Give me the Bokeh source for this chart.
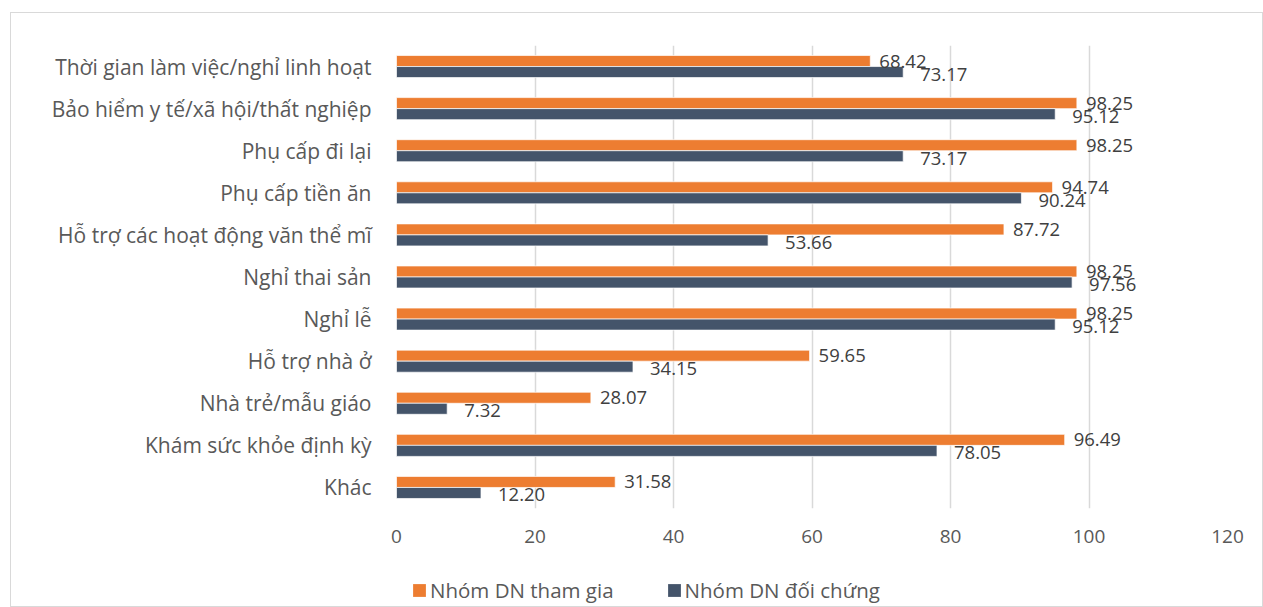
from bokeh.plotting import figure
from bokeh.layouts import column
from bokeh.models import ColumnDataSource, Range1d, FixedTicker, Legend, LegendItem
from bokeh.transform import dodge
from bokeh.core.properties import value
from bokeh.embed import file_html
from bokeh.resources import INLINE

# Benefit categories (top to bottom) and share of firms offering each (%)
categories = [
    "Thời gian làm việc/nghỉ linh hoạt",
    "Bảo hiểm y tế/xã hội/thất nghiệp",
    "Phụ cấp đi lại",
    "Phụ cấp tiền ăn",
    "Hỗ trợ các hoạt động văn thể mĩ",
    "Nghỉ thai sản",
    "Nghỉ lễ",
    "Hỗ trợ nhà ở",
    "Nhà trẻ/mẫu giáo",
    "Khám sức khỏe định kỳ",
    "Khác",
]
tham_gia = [68.42, 98.25, 98.25, 94.74, 87.72, 98.25, 98.25, 59.65, 28.07, 96.49, 31.58]
doi_chung = [73.17, 95.12, 73.17, 90.24, 53.66, 97.56, 95.12, 34.15, 7.32, 78.05, 12.20]
series_names = ["Nhóm DN tham gia", "Nhóm DN đối chứng"]
x_ticks = [0, 20, 40, 60, 80, 100, 120]

ORANGE = "#ED7D31"
SLATE = "#44546A"
FONT = "Open Sans"
GRID = "#D9D9D9"

src = ColumnDataSource(dict(
    y=list(range(len(categories))),
    a=tham_gia,
    b=doi_chung,
    a_lbl=[f"{v:.2f}" for v in tham_gia],
    b_lbl=[f"{v:.2f}" for v in doi_chung],
))

# ---- main bar chart ----
p = figure(width=1251, height=547, output_backend="svg", toolbar_location=None,
           x_range=Range1d(0, 120), y_range=Range1d(len(categories) - 0.5, -0.5),
           min_border_left=385, min_border_right=35, min_border_top=32,
           min_border_bottom=52)
p.outline_line_color = None
p.background_fill_color = "white"
p.border_fill_color = "white"

BAR_H = 0.262
bar_a = p.hbar(y=dodge("y", -BAR_H / 2, range=p.y_range), right="a", left=0, height=BAR_H,
               source=src, fill_color=ORANGE, line_color="white", line_width=0.7)
bar_b = p.hbar(y=dodge("y", BAR_H / 2, range=p.y_range), right="b", left=0, height=BAR_H,
               source=src, fill_color=SLATE, line_color="white", line_width=0.7)

# value labels at the bar ends
p.text(x="a", y=dodge("y", -BAR_H / 2, range=p.y_range), text="a_lbl", source=src,
       x_offset=9, y_offset=0, text_baseline="middle", text_align="left",
       text_font=value(FONT), text_font_size="18.5px", text_color="#404040")
p.text(x="b", y=dodge("y", BAR_H / 2, range=p.y_range), text="b_lbl", source=src,
       x_offset=17, y_offset=2, text_baseline="middle", text_align="left",
       text_font=value(FONT), text_font_size="18.5px", text_color="#404040")

# axes
p.xaxis.ticker = FixedTicker(ticks=x_ticks)
p.xaxis.axis_line_color = None
p.xaxis.major_tick_line_color = None
p.xaxis.minor_tick_line_color = None
p.xaxis.major_label_standoff = 15
p.xaxis.major_label_text_font = FONT
p.xaxis.major_label_text_font_size = "19px"
p.xaxis.major_label_text_color = "#595959"

p.yaxis.ticker = FixedTicker(ticks=list(range(len(categories))))
p.yaxis.major_label_overrides = {i: c for i, c in enumerate(categories)}
p.yaxis.axis_line_color = None
p.yaxis.major_tick_line_color = None
p.yaxis.minor_tick_line_color = None
p.yaxis.major_label_standoff = 19
p.yaxis.major_label_text_font = FONT
p.yaxis.major_label_text_font_size = "21px"
p.yaxis.major_label_text_color = "#595959"

p.xgrid.grid_line_color = GRID
p.xgrid.grid_line_width = 1.5
p.ygrid.grid_line_color = None

# ---- legend strip under the chart (frame aligns with the chart above) ----
lg = figure(width=1251, height=46, output_backend="svg", toolbar_location=None,
            x_range=Range1d(0, 1), y_range=Range1d(100, 101),
            min_border=0, x_axis_type=None, y_axis_type=None)
lg.outline_line_color = None
lg.grid.visible = False
lg.background_fill_color = "white"
lg.border_fill_color = "white"
# key renderers for the legend swatches; their bars fall outside this strip's range
key_a = lg.hbar(y="y", right="a", height=BAR_H, source=src, fill_color=ORANGE, line_color=None)
key_b = lg.hbar(y="y", right="b", height=BAR_H, source=src, fill_color=SLATE, line_color=None)

legend = Legend(items=[LegendItem(label=series_names[0], renderers=[key_a]),
                       LegendItem(label=series_names[1], renderers=[key_b])],
                orientation="horizontal", location=(15, 2),
                label_text_font=FONT, label_text_font_size="20.5px",
                label_text_color="#595959", glyph_width=16, glyph_height=16,
                label_standoff=3, spacing=52, padding=0, margin=0,
                border_line_color=None, background_fill_alpha=0)
lg.add_layout(legend, "center")

# light frame around the whole chart
layout = column(p, lg, spacing=0)
layout.styles = {"margin-left": "10px", "margin-top": "12px",
                 "border": "1px solid #D9D9D9", "background": "white"}

open("out.html", "w").write(file_html(layout, INLINE))
